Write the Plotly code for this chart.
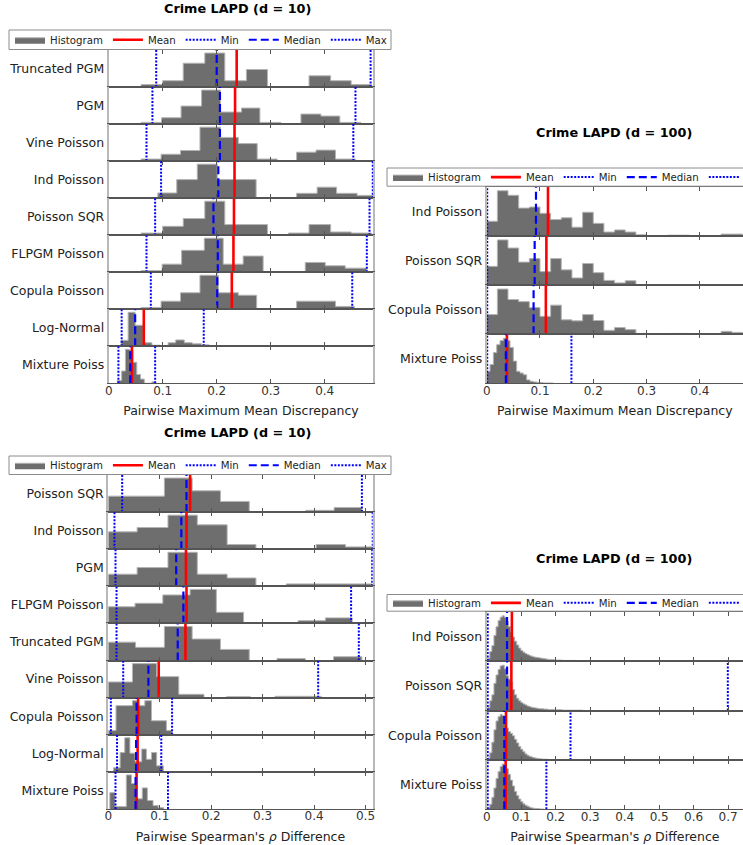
import plotly.graph_objects as go

FONT = "DejaVu Sans"
W, H = 743, 845

# ---------------- data: panel A  (Crime LAPD d = 10, MMD) ----------------
A_LABELS = ["Truncated PGM", "PGM", "Vine Poisson", "Ind Poisson", "Poisson SQR",
            "FLPGM Poisson", "Copula Poisson", "Log-Normal", "Mixture Poiss"]
A_EDGES = [
    [0.060, 0.100, 0.138, 0.178, 0.215, 0.255, 0.294, 0.333, 0.371, 0.411, 0.449, 0.487],
    [0.060, 0.098, 0.134, 0.172, 0.207, 0.246, 0.280, 0.319, 0.356, 0.393, 0.428, 0.467],
    [0.060, 0.097, 0.133, 0.169, 0.207, 0.240, 0.275, 0.312, 0.348, 0.384, 0.420, 0.457],
    [0.091, 0.126, 0.164, 0.201, 0.237, 0.273, 0.310, 0.348, 0.386, 0.422, 0.460, 0.492],
    [0.060, 0.100, 0.138, 0.178, 0.215, 0.255, 0.294, 0.333, 0.371, 0.411, 0.449, 0.487],
    [0.060, 0.099, 0.135, 0.177, 0.212, 0.249, 0.286, 0.325, 0.364, 0.401, 0.438, 0.478],
    [0.060, 0.097, 0.133, 0.169, 0.203, 0.240, 0.274, 0.311, 0.348, 0.384, 0.420, 0.455],
    [0.023, 0.036, 0.049, 0.064, 0.080, 0.095, 0.110, 0.124, 0.140, 0.155, 0.172, 0.186],
    [0.016, 0.024, 0.031, 0.038, 0.045, 0.052, 0.059, 0.066, 0.073, 0.080, 0.087],
]
A_HEIGHTS = [
    [7, 18, 68, 97, 18, 50, 0, 0, 32, 18, 7],
    [5, 19, 54, 102, 36, 48, 5, 0, 30, 24, 5],
    [6, 20, 31, 99, 69, 51, 6, 0, 26, 32, 6],
    [15, 54, 99, 54, 54, 0, 0, 14, 32, 14, 8],
    [6, 25, 47, 96, 30, 30, 0, 6, 30, 9, 6],
    [5, 24, 65, 101, 24, 48, 0, 0, 29, 19, 12],
    [5, 23, 47, 97, 47, 40, 0, 0, 23, 23, 8],
    [17, 97, 60, 10, 3, 0, 10, 18, 10, 7, 4],
    [8, 35, 97, 95, 60, 25, 12, 0, 0, 4],
]
A_MEAN = [0.237, 0.234, 0.233, 0.233, 0.232, 0.231, 0.228, 0.065, 0.043]
A_MIN = [0.088, 0.081, 0.070, 0.097, 0.086, 0.070, 0.078, 0.024, 0.018]
A_MEDIAN = [0.200, 0.206, 0.206, 0.203, 0.194, 0.202, 0.201, 0.049, 0.040]
A_MAX = [0.485, 0.457, 0.453, 0.489, 0.483, 0.478, 0.451, 0.176, 0.086]

# ---------------- data: panel B  (Crime LAPD d = 100, MMD) ----------------
B_LABELS = ["Ind Poisson", "Poisson SQR", "Copula Poisson", "Mixture Poiss"]
B_BIN_START = [0.0, 0.0, 0.0, 0.0]
B_BIN_WIDTH = [0.02, 0.02, 0.02, 0.00625]
B_HEIGHTS = [
    [42, 130, 117, 80, 83, 65, 47, 52, 25, 68, 36, 11, 17, 11, 3, 1, 1, 2, 2, 1, 1, 1, 5, 5],
    [53, 128, 105, 65, 75, 38, 75, 43, 20, 61, 35, 13, 6, 12, 1, 1, 1, 1, 1, 1, 1, 1, 1, 1],
    [56, 129, 99, 93, 76, 51, 83, 41, 38, 56, 39, 11, 19, 13, 2, 1, 1, 2, 2, 1, 1, 1, 8, 5],
    [35, 55, 90, 113, 125, 132, 125, 105, 65, 35, 30, 25, 10, 6, 4, 3, 2, 1, 1, 1],
]
B_MEAN = [0.115, 0.112, 0.111, 0.038]
B_MIN = [0.001, 0.001, 0.001, 0.001]
B_MEDIAN = [0.0925, 0.090, 0.088, 0.036]
B_MAX = [0.50, 0.49, 0.52, 0.159]

# ---------------- data: panel C  (Crime LAPD d = 10, Spearman) ----------------
C_LABELS = ["Poisson SQR", "Ind Poisson", "PGM", "FLPGM Poisson", "Truncated PGM",
            "Vine Poisson", "Copula Poisson", "Log-Normal", "Mixture Poiss"]
C_EDGES = [
    [0.0, 0.055, 0.109, 0.163, 0.218, 0.274, 0.329, 0.384, 0.439, 0.493],
    [0.0, 0.056, 0.116, 0.173, 0.231, 0.287, 0.346, 0.404, 0.461, 0.515],
    [0.0, 0.056, 0.116, 0.173, 0.231, 0.287, 0.346, 0.404, 0.461, 0.515],
    [0.0, 0.052, 0.106, 0.159, 0.210, 0.263, 0.316, 0.369, 0.422, 0.474],
    [0.0, 0.053, 0.109, 0.163, 0.218, 0.274, 0.328, 0.383, 0.438, 0.493],
    [0.0, 0.047, 0.094, 0.137, 0.186, 0.230, 0.276, 0.324, 0.369, 0.414],
    [0.0, 0.015, 0.031, 0.047, 0.058, 0.071, 0.084, 0.098, 0.113, 0.124],
    [0.010, 0.023, 0.032, 0.042, 0.052, 0.065, 0.074, 0.084, 0.094, 0.107],
    [0.003, 0.013, 0.024, 0.035, 0.045, 0.055, 0.066, 0.076, 0.087, 0.097, 0.108],
]
C_HEIGHTS = [
    [45, 45, 96, 60, 30, 0, 0, 5, 13],
    [52, 65, 102, 73, 14, 1, 1, 14, 7],
    [35, 54, 98, 35, 24, 0, 7, 7, 7],
    [48, 58, 82, 98, 32, 0, 0, 8, 16],
    [53, 38, 98, 62, 32, 0, 6, 0, 11],
    [47, 102, 63, 10, 0, 3, 0, 4, 4],
    [12, 83, 83, 97, 83, 97, 40, 40, 12],
    [12, 57, 100, 55, 30, 67, 37, 57, 18],
    [48, 7, 7, 100, 75, 30, 62, 25, 10, 4],
]
C_MEAN = [0.159, 0.152, 0.151, 0.152, 0.150, 0.098, 0.058, 0.057, 0.055]
C_MIN = [0.027, 0.012, 0.014, 0.016, 0.016, 0.029, 0.005, 0.017, 0.014]
C_MEDIAN = [0.152, 0.142, 0.132, 0.146, 0.135, 0.078, 0.055, 0.054, 0.053]
C_MAX = [0.493, 0.514, 0.513, 0.472, 0.487, 0.408, 0.124, 0.103, 0.116]

# ---------------- data: panel D  (Crime LAPD d = 100, Spearman) ----------------
D_LABELS = ["Ind Poisson", "Poisson SQR", "Copula Poisson", "Mixture Poiss"]
D_BIN_START = [0.003, 0.003, 0.003, 0.003]
D_BIN_WIDTH = [0.006, 0.006, 0.006, 0.006]
D_HEIGHTS = [
    [8, 28, 45, 75, 100, 118, 128, 132, 128, 115, 100, 85, 70, 58, 47, 38, 31, 26, 22, 19,
     16, 14, 12, 11, 10, 9, 8, 7, 6, 5, 5, 4, 4, 3, 3, 3, 2, 2, 2, 2, 2, 2, 1, 1, 1, 1, 1, 1, 1, 1],
    [8, 28, 45, 78, 102, 118, 128, 130, 120, 100, 90, 82, 60, 45, 35, 28, 23, 19, 16, 13,
     11, 9, 8, 7, 6, 5, 5, 4, 4, 3, 3, 3, 2, 2, 2, 2, 1, 1, 1, 1, 1, 1, 1, 1, 1, 1],
    [5, 20, 50, 85, 110, 122, 128, 125, 110, 90, 80, 75, 68, 58, 48, 38, 30, 23, 17, 13,
     10, 8, 6, 5, 4, 3, 2, 2, 2, 1, 1, 1, 1],
    [5, 15, 35, 62, 90, 110, 125, 132, 130, 118, 102, 85, 68, 52, 40, 30, 22, 16, 12, 9,
     6, 4, 3, 2, 2, 1, 1],
]
D_MEAN = [0.073, 0.0715, 0.056, 0.055]
D_MIN = [0.003, 0.003, 0.003, 0.003]
D_MEDIAN = [0.059, 0.059, 0.051, 0.051]
D_MAX = [0.78, 0.699, 0.243, 0.173]


def uniform_edges(start, width, n):
    return [start + k * width for k in range(n + 1)]


B_EDGES = [uniform_edges(B_BIN_START[i], B_BIN_WIDTH[i], len(B_HEIGHTS[i])) for i in range(4)]
D_EDGES = [uniform_edges(D_BIN_START[i], D_BIN_WIDTH[i], len(D_HEIGHTS[i])) for i in range(4)]

# ---------------- layout of the four panels (pixels) ----------------
PANELS = [
    dict(labels=A_LABELS, edges=A_EDGES, heights=A_HEIGHTS, mean=A_MEAN, mn=A_MIN, med=A_MEDIAN, mx=A_MAX,
         x0=108.7, x1=373.3, top=50, bottom=383.3, xmax=0.49, mirror=True,
         title="Crime LAPD (d = 10)", tx=237, ty=8,
         xlabel="Pairwise Maximum Mean Discrepancy", legend="legend",
         box=(9, 391, 30, 49.5)),
    dict(labels=B_LABELS, edges=B_EDGES, heights=B_HEIGHTS, mean=B_MEAN, mn=B_MIN, med=B_MEDIAN, mx=B_MAX,
         x0=486.7, x1=743, top=186.7, bottom=383.3, xmax=0.481, mirror=False,
         title="Crime LAPD (d = 100)", tx=614, ty=132,
         xlabel="Pairwise Maximum Mean Discrepancy", legend="legend2",
         box=(387, 770, 168, 186.2)),
    dict(labels=C_LABELS, edges=C_EDGES, heights=C_HEIGHTS, mean=C_MEAN, mn=C_MIN, med=C_MEDIAN, mx=C_MAX,
         x0=108.3, x1=372.7, top=475, bottom=809, xmax=0.514, mirror=True,
         title="Crime LAPD (d = 10)", tx=237, ty=432,
         xlabel="Pairwise Spearman's <i>ρ</i> Difference", legend="legend3",
         box=(9, 391, 456, 474.5)),
    dict(labels=D_LABELS, edges=D_EDGES, heights=D_HEIGHTS, mean=D_MEAN, mn=D_MIN, med=D_MEDIAN, mx=D_MAX,
         x0=486.7, x1=743, top=611.7, bottom=809.3, xmax=0.743, mirror=False,
         title="Crime LAPD (d = 100)", tx=614, ty=558,
         xlabel="Pairwise Spearman's <i>ρ</i> Difference", legend="legend4",
         box=(387, 770, 594.5, 611.2)),
]

YPAD = 1.09
HIST_FILL = "#6e6e6e"
HIST_EDGE = "#b4b4b4"
AXIS_DARK = "#555555"
SPINE = "#b8b8b8"
TEXT = "#222222"

fig = go.Figure()
layout = {}
annotations = []
shapes = []
ax = 0
for p in PANELS:
    n = len(p["labels"])
    rowh = (p["bottom"] - p["top"]) / n
    line_specs = [
        ("Mean", p["mean"], "#ff0000", "solid", 2.6),
        ("Min", p["mn"], "#0000ff", "2px,1.5px", 2.0),
        ("Median", p["med"], "#0000ff", "8px,4px", 2.2),
        ("Max", p["mx"], "#0000ff", "2px,1.5px", 2.0),
    ]
    for r in range(n):
        ax += 1
        xa = "x" if ax == 1 else f"x{ax}"
        ya = "y" if ax == 1 else f"y{ax}"
        edges = p["edges"][r]
        hts = p["heights"][r]
        ytop = max(hts) * YPAD
        first = r == 0
        last = r == n - 1
        # step-filled histogram built from the bin edges and heights
        fig.add_trace(go.Scatter(
            x=[edges[0]] + list(edges), y=[0] + list(hts) + [0], xaxis=xa, yaxis=ya,
            mode="lines", fill="tozeroy", fillcolor=HIST_FILL,
            line=dict(color=HIST_EDGE, width=1, shape="hv"),
            name="Histogram", showlegend=first, legend=p["legend"], hoverinfo="skip"))
        for name, vals, color, dash, lw in line_specs:
            v = vals[r]
            fig.add_trace(go.Scatter(
                x=[v, v], y=[0, ytop], xaxis=xa, yaxis=ya, mode="lines",
                line=dict(color=color, dash=dash, width=lw),
                name=name, showlegend=first, legend=p["legend"], hoverinfo="skip"))

        y0 = 1 - (p["top"] + (r + 1) * rowh) / H
        y1 = 1 - (p["top"] + r * rowh) / H
        xkey = "xaxis" if ax == 1 else f"xaxis{ax}"
        ykey = "yaxis" if ax == 1 else f"yaxis{ax}"
        xdict = dict(
            domain=[p["x0"] / W, min(p["x1"] / W, 1.0)], range=[0, p["xmax"]], anchor=ya,
            showgrid=False, zeroline=False, showline=True, linecolor=AXIS_DARK, linewidth=1,
            mirror="ticks", ticks="inside", ticklen=4, tickwidth=1, tickcolor=AXIS_DARK,
            tick0=0, dtick=0.1, showticklabels=last, ticklabelstandoff=-4,
            tickfont=dict(size=12, color="#333333", family=FONT), fixedrange=True)
        if last:
            xdict["title"] = dict(text=p["xlabel"], font=dict(size=12.5, color=TEXT, family=FONT),
                                  standoff=9)
        layout[xkey] = xdict
        layout[ykey] = dict(
            domain=[y0, y1], range=[0, ytop], anchor=xa,
            showgrid=False, zeroline=False, showline=True, linecolor=SPINE, linewidth=2,
            mirror=p["mirror"], ticks="", tickmode="array", tickvals=[ytop / 2],
            ticktext=[p["labels"][r]], tickfont=dict(size=12.5, color=TEXT, family=FONT),
            fixedrange=True)

    annotations.append(dict(
        text="<b>" + p["title"] + "</b>", x=p["tx"] / W, y=1 - p["ty"] / H,
        xref="paper", yref="paper", xanchor="center", yanchor="middle", showarrow=False,
        font=dict(size=12.8, color="#000000", family=FONT)))
    bx0, bx1, by0, by1 = p["box"]
    shapes.append(dict(type="rect", xref="paper", yref="paper",
                       x0=bx0 / W, x1=bx1 / W, y0=1 - by1 / H, y1=1 - by0 / H,
                       line=dict(color="#8c8c8c", width=1), fillcolor="rgba(0,0,0,0)"))
    layout[p["legend"]] = dict(
        x=(bx0 + 1) / W, y=1 - (by0 + by1) / 2 / H, xanchor="left", yanchor="middle",
        orientation="h", borderwidth=0, bgcolor="rgba(0,0,0,0)", tracegroupgap=0,
        font=dict(size=10.2, color=TEXT, family=FONT), itemclick=False, itemdoubleclick=False)

fig.update_layout(
    width=W, height=H, margin=dict(l=0, r=0, t=0, b=0, autoexpand=False),
    paper_bgcolor="white", plot_bgcolor="white",
    showlegend=True, hovermode=False, font=dict(family=FONT, color=TEXT),
    annotations=annotations, shapes=shapes, **layout)

fig.write_html("out.html", config={"displayModeBar": False},
               post_script="document.body.style.margin='0px';")
